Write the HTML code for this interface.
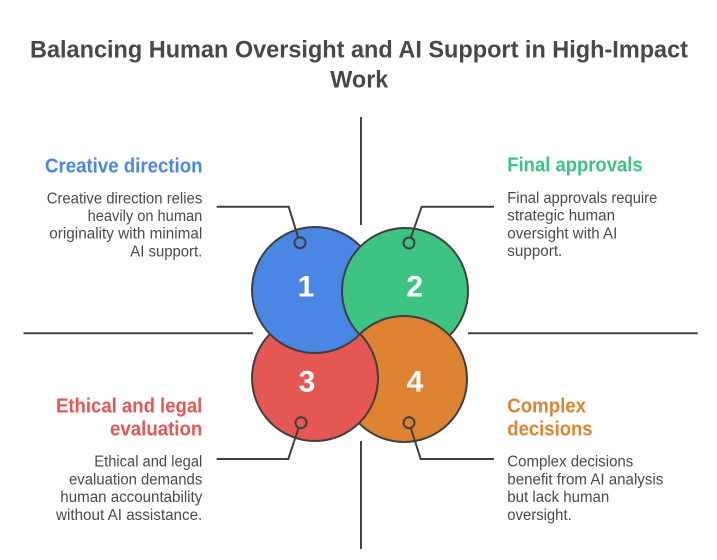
<!DOCTYPE html>
<html>
<head>
<meta charset="utf-8">
<style>
html,body{margin:0;padding:0;background:#fff;}
svg{display:block;}
text{font-family:"Liberation Sans",Arial,sans-serif;}
</style>
</head>
<body>
<svg width="717" height="560" viewBox="0 0 717 560" xmlns="http://www.w3.org/2000/svg">
  <defs>
    <mask id="redfix" maskUnits="userSpaceOnUse" x="0" y="0" width="717" height="560">
      <circle cx="404" cy="379" r="65" fill="#fff"/>
      <circle cx="315" cy="290" r="64" fill="#000"/>
    </mask>
  </defs>

  <!-- Title -->
  <text x="359" y="57.3" text-anchor="middle" font-size="24.5" font-weight="bold" fill="#484848" textLength="658" lengthAdjust="spacingAndGlyphs">Balancing Human Oversight and AI Support in High-Impact</text>
  <text x="359.3" y="87.7" text-anchor="middle" font-size="24.5" font-weight="bold" fill="#484848" textLength="58" lengthAdjust="spacingAndGlyphs">Work</text>

  <!-- Cross lines -->
  <g stroke="#444" stroke-width="2" fill="none">
    <line x1="361" y1="117" x2="361" y2="225"/>
    <line x1="361" y1="441" x2="361" y2="549"/>
    <line x1="23.5" y1="333.3" x2="253" y2="333.3"/>
    <line x1="468" y1="333.3" x2="697.7" y2="333.3"/>
  </g>

  <!-- Circles -->
  <g stroke="#3f3f3f" stroke-width="2">
    <circle cx="315" cy="378" r="63" fill="#E45752"/>
    <circle cx="315" cy="290" r="63" fill="#4A86E3"/>
    <circle cx="405" cy="291" r="63" fill="#3DC482"/>
    <circle cx="404" cy="379" r="63" fill="#DD8331"/>
    <circle cx="315" cy="378" r="63" fill="#E45752" mask="url(#redfix)"/>
  </g>

  <!-- Numbers -->
  <g font-size="30" font-weight="bold" fill="#fff" text-anchor="middle">
    <text x="306" y="296.7">1</text>
    <text x="414.7" y="296.7">2</text>
    <text x="307" y="391.7">3</text>
    <text x="415" y="391.7">4</text>
  </g>

  <!-- Connectors -->
  <g stroke="#3f3f3f" stroke-width="2" fill="none">
    <polyline points="216.7,206.7 288.7,206.7 298,237"/>
    <circle cx="300" cy="242.7" r="5.5"/>
    <polyline points="494,206.7 421.7,206.7 411,237.3"/>
    <circle cx="409" cy="243" r="5.5"/>
    <polyline points="216.7,459 288.3,459 298.5,428.2"/>
    <circle cx="301" cy="422.7" r="5.5"/>
    <polyline points="494,459 420.7,459 410.8,428.2"/>
    <circle cx="409" cy="422.7" r="5.5"/>
  </g>

  <!-- Creative direction -->
  <text x="202.5" y="172.5" text-anchor="end" font-size="20" font-weight="bold" fill="#4A86E3" textLength="157.5" lengthAdjust="spacingAndGlyphs">Creative direction</text>
  <g font-size="15.5" fill="#4a4a4a" text-anchor="end">
    <text x="202.3" y="203.3" textLength="155.6" lengthAdjust="spacingAndGlyphs">Creative direction relies</text>
    <text x="202.3" y="221" textLength="114.7" lengthAdjust="spacingAndGlyphs">heavily on human</text>
    <text x="202.3" y="238.7" textLength="153" lengthAdjust="spacingAndGlyphs">originality with minimal</text>
    <text x="202.3" y="256.4" textLength="72" lengthAdjust="spacingAndGlyphs">AI support.</text>
  </g>

  <!-- Final approvals -->
  <text x="507.3" y="171.7" font-size="20" font-weight="bold" fill="#3DC482" textLength="135.3" lengthAdjust="spacingAndGlyphs">Final approvals</text>
  <g font-size="15.5" fill="#4a4a4a">
    <text x="507.3" y="203" textLength="150" lengthAdjust="spacingAndGlyphs">Final approvals require</text>
    <text x="507.3" y="220.7" textLength="107.7" lengthAdjust="spacingAndGlyphs">strategic human</text>
    <text x="507.3" y="238.4" textLength="110" lengthAdjust="spacingAndGlyphs">oversight with AI</text>
    <text x="507.3" y="256.1" textLength="55" lengthAdjust="spacingAndGlyphs">support.</text>
  </g>

  <!-- Ethical and legal evaluation -->
  <g font-size="20" font-weight="bold" fill="#E45752" text-anchor="end">
    <text x="202.3" y="412.3" textLength="146.3" lengthAdjust="spacingAndGlyphs">Ethical and legal</text>
    <text x="202.3" y="435.7" textLength="92.3" lengthAdjust="spacingAndGlyphs">evaluation</text>
  </g>
  <g font-size="15.5" fill="#4a4a4a" text-anchor="end">
    <text x="202.3" y="466.7" textLength="108" lengthAdjust="spacingAndGlyphs">Ethical and legal</text>
    <text x="202.3" y="484.4" textLength="133.3" lengthAdjust="spacingAndGlyphs">evaluation demands</text>
    <text x="202.3" y="502.1" textLength="142" lengthAdjust="spacingAndGlyphs">human accountability</text>
    <text x="202.3" y="519.8" textLength="146.3" lengthAdjust="spacingAndGlyphs">without AI assistance.</text>
  </g>

  <!-- Complex decisions -->
  <g font-size="20" font-weight="bold" fill="#DD8331">
    <text x="507.3" y="412.3" textLength="78.7" lengthAdjust="spacingAndGlyphs">Complex</text>
    <text x="507.3" y="435.7" textLength="85.3" lengthAdjust="spacingAndGlyphs">decisions</text>
  </g>
  <g font-size="15.5" fill="#4a4a4a">
    <text x="507.3" y="466.7" textLength="126" lengthAdjust="spacingAndGlyphs">Complex decisions</text>
    <text x="507.3" y="484.4" textLength="156" lengthAdjust="spacingAndGlyphs">benefit from AI analysis</text>
    <text x="507.3" y="502.1" textLength="102" lengthAdjust="spacingAndGlyphs">but lack human</text>
    <text x="507.3" y="519.8" textLength="64.4" lengthAdjust="spacingAndGlyphs">oversight.</text>
  </g>
</svg>
</body>
</html>
